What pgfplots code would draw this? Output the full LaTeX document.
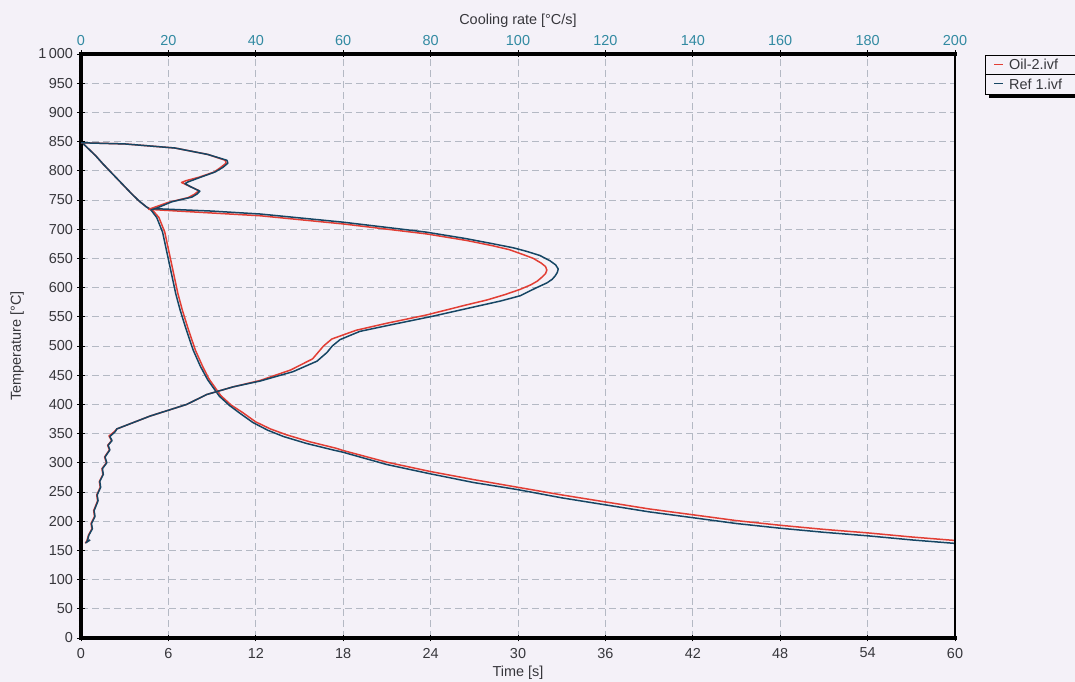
\documentclass[border=0pt]{standalone}
\usepackage{pgfplots}
\pgfplotsset{compat=1.18}
\usepackage{fontspec}
\setmainfont{Liberation Sans}
\definecolor{bgc}{RGB}{244,241,248}
\definecolor{gridc}{RGB}{180,185,196}
\definecolor{oilred}{RGB}{226,62,52}
\definecolor{refblue}{RGB}{22,70,100}
\definecolor{teal}{RGB}{50,138,162}
\definecolor{tickgrey}{RGB}{55,55,60}

\pgfplotstableread{
t T
0 850
0.5 838
1.0 826
1.5 812
2.0 799
2.5 786
3.0 773
3.5 760
4.0 748
4.5 738
4.9 733
5.35 720
5.75 695
6.05 660
6.35 625
6.65 590
6.95 562
7.35 530
7.85 493
8.35 465
8.8 443
9.2 429
9.6 415
10.3 399
11.1 386
12.0 370
13.0 358
14.1 348
15.7 336
17.5 325
18 321
21 301
24 285
27 271
30 258
33 245
36 233
39 221
42 211
45 201
48 193
51 186
54 180
57 173
60 167
}\oiltime

\pgfplotstableread{
t T
0 850
0.5 838
1.0 826
1.5 812
2.0 799
2.5 786
3.0 773
3.5 760
4.0 748
4.5 738
4.8 733
5.2 720
5.6 695
5.9 660
6.2 625
6.5 590
6.8 562
7.2 530
7.7 493
8.2 465
8.7 442
9.1 428
9.5 414
10.2 398
10.9 385
11.8 369
12.8 356
13.9 345
15.5 333
17.3 322
18 318
21 297
24 281
27 266
30 254
33 240
36 228
39 216
42 206
45 196
48 188
51 181
54 175
57 168
60 162
}\reftime

\pgfplotstableread{
r T
0 848
10 846
21.5 839
29 828
33 818
33.2 813
32 806
30.5 798
27 789
24 783
23 780
25 773
27 766
26 760
24.5 754
20 746
17 738
15.5 734
20 732
41 723
60 709
79 692
88 681
94 672
98 665
101 657
103.5 650
105.3 642
106.3 636
106.6 630
106.3 624
105.5 618
104.4 611
103 605
100.5 597
97 588
93 579
88 570
79 553
70 539
63 527
57.4 512
55.5 500
53 478
48 459
41 441
34.8 430
28.8 417
24.2 400
15.8 380
8.2 358
7.6 353
6.4 346
7.0 338
6.1 330
6.5 322
5.4 310
5.8 300
4.8 290
5.0 280
4.2 268
4.4 258
3.6 245
3.8 235
2.9 218
3.1 208
2.3 196
2.5 187
1.7 176
1.3 165
1.0 163
2.0 168
}\oilrate

\pgfplotstableread{
r T
0 848
10 846
21.5 839
29 828
33.4 818
33.6 813
32.5 806
30.7 798
27 788
24.5 781
23.8 778
25 773
27.2 765
26.5 760
25.4 755
20.8 747
17.6 737
16 733
17 735
19 734.5
30 731
41 726
60 712
79 695
88 684
94.3 675
99 668
102 662
105 655
107.3 646
108.6 639
109.2 632
109 626
108.5 620
107.8 614
106.6 608
104 599
100.5 586
96 577
90.6 568
80.5 551
71.4 537
63.8 525
59.3 511
57.5 500
56.3 489
54 474
48.5 456
41 440
34.8 430
28.8 417
24.2 400
15.8 380
8.2 358
7.8 353
6.6 345
7.1 338
6.2 330
6.6 322
5.5 310
5.9 300
4.9 290
5.1 280
4.3 268
4.5 258
3.7 245
3.9 235
3.0 218
3.2 208
2.4 196
2.6 187
1.8 176
1.4 165
1.1 163
2.1 168
}\refrate

\begin{document}
\begin{tikzpicture}
\fill[bgc] (0bp,0bp) rectangle (1075bp,682bp);
\path[use as bounding box] (0bp,0bp) rectangle (1075bp,682bp);

\pgfplotsset{
  myaxis/.style={
    at={(81bp,44bp)}, anchor=south west,
    scale only axis, width=874bp, height=584bp,
    ymin=0, ymax=1000,
    /pgf/number format/assume math mode=true,
    tick label style={font=\fontsize{14.5}{16}\selectfont, text=tickgrey},
    tick style={black, line width=0.8bp},
    major tick length=7bp, minor tick length=4bp,
    tick align=center,
    clip=false,
  }
}

\begin{axis}[myaxis,
  xmin=0, xmax=60,
  axis x line*=bottom, axis y line*=left,
  axis line style={draw=none},
  xtick={0,6,...,60},
  ytick={0,50,...,1000},
  yticklabels={0,50,100,150,200,250,300,350,400,450,500,550,600,650,700,750,800,850,900,950,1\,000},
  minor x tick num=3, minor y tick num=4,
  grid=major,
  major grid style={gridc, line width=0.8bp, dash pattern=on 7bp off 4bp},
  xticklabel style={yshift=-3bp},
  yticklabel style={xshift=-1bp},
  xlabel={Time [s]},
  ylabel={Temperature [°C]},
  every axis x label/.style={at={(axis description cs:0.5,-0.06)}, anchor=center, font=\fontsize{14.5}{16}\selectfont, text=tickgrey},
  every axis y label/.style={at={(axis description cs:-0.073,0.5)}, anchor=center, rotate=90, font=\fontsize{14.5}{16}\selectfont, text=tickgrey},
  after end axis/.code={
    \draw[black, line width=3.6bp, line cap=rect] (rel axis cs:0,0) -- (rel axis cs:1,0);
    \draw[black, line width=3.6bp, line cap=rect] (rel axis cs:0,0) -- (rel axis cs:0,1);
  },
]
\addplot[oilred, line width=1.5bp, line join=round] table[x=t,y=T] {\oiltime};
\addplot[refblue, line width=1.5bp, line join=round] table[x=t,y=T] {\reftime};
\end{axis}

\begin{axis}[myaxis,
  xmin=0, xmax=200,
  axis x line*=top, axis y line*=right,
  axis line style={draw=none},
  xtick={0,20,...,200}, ytick=\empty,
  minor x tick num=3,
  xticklabel style={text=teal, yshift=1bp},
  xlabel={Cooling rate [°C/s]},
  every axis x label/.style={at={(axis description cs:0.5,1.057)}, anchor=center, font=\fontsize{14.5}{16}\selectfont, text=tickgrey},
  after end axis/.code={
    \draw[black, line width=3.6bp, line cap=rect] (rel axis cs:0,1) -- (rel axis cs:1,1);
    \draw[black, line width=1.2bp] (rel axis cs:1,0) -- (rel axis cs:1,1);
  },
]
\addplot[oilred, line width=1.5bp, line join=round] table[x=r,y=T] {\oilrate};
\addplot[refblue, line width=1.5bp, line join=round] table[x=r,y=T] {\refrate};
\end{axis}

% legend
\fill[black] (989bp,584bp) rectangle (1075bp,588bp);
\draw[black, line width=0.9bp, fill=bgc] (985bp,588bp) rectangle (1080bp,627bp);
\draw[black, line width=0.9bp] (985bp,607.5bp) -- (1080bp,607.5bp);
\draw[oilred, line width=1bp] (994bp,617.5bp) -- (1003bp,617.5bp);
\draw[refblue, line width=1bp] (994bp,598bp) -- (1003bp,598bp);
\node[anchor=west, inner sep=0pt, text=tickgrey, font=\fontsize{14.5}{16}\selectfont] at (1009bp,617.5bp) {Oil-2.ivf};
\node[anchor=west, inner sep=0pt, text=tickgrey, font=\fontsize{14.5}{16}\selectfont] at (1009bp,598bp) {Ref 1.ivf};
\end{tikzpicture}
\end{document}
